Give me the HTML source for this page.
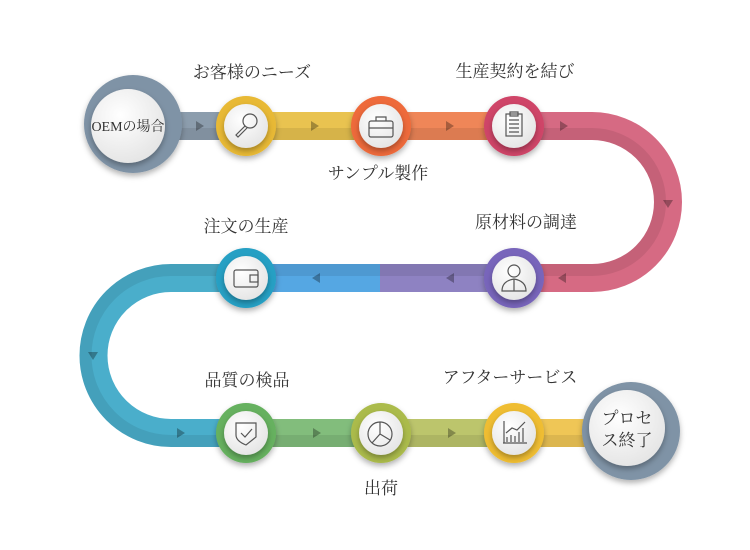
<!DOCTYPE html>
<html><head><meta charset="utf-8"><style>
html,body{margin:0;padding:0;background:#fff;width:750px;height:550px;overflow:hidden}
text{font-family:"Liberation Serif","Noto Serif CJK SC",serif;fill:#333}
</style></head><body>
<svg width="750" height="550" viewBox="0 0 750 550" xmlns="http://www.w3.org/2000/svg">
<defs>
<filter id="sh" x="-50%" y="-50%" width="200%" height="200%"><feDropShadow dx="0" dy="3" stdDeviation="3" flood-color="#000" flood-opacity="0.3"/></filter>
<radialGradient id="wg" cx="0.4" cy="0.35" r="0.7"><stop offset="0" stop-color="#fff"/><stop offset="1" stop-color="#e4e4e4"/></radialGradient>
</defs>
<g fill="none" stroke-width="28">
<line x1="150" y1="126" x2="246" y2="126" stroke="#8c9dad"/>
<line x1="246" y1="126" x2="381" y2="126" stroke="#e9c350"/>
<line x1="381" y1="126" x2="514" y2="126" stroke="#ef8658"/>
<path d="M514 126 H592 A76 76 0 0 1 592 278 H514" stroke="#d66a83"/>
<line x1="514" y1="278" x2="380" y2="278" stroke="#8e82c2"/>
<line x1="380" y1="278" x2="246" y2="278" stroke="#55a7e3"/>
<path d="M246 278 H171 A77.5 77.5 0 0 0 171 433 H246" stroke="#4aaecb"/>
<line x1="246" y1="433" x2="381" y2="433" stroke="#82bd7c"/>
<line x1="381" y1="433" x2="514" y2="433" stroke="#bcc56c"/>
<line x1="514" y1="433" x2="610" y2="433" stroke="#efc656"/>
</g>
<g fill="none" stroke-width="12" stroke="#000" stroke-opacity="0.08">
<line x1="150" y1="134" x2="592" y2="134"/>
<path d="M592 134 A68 68 0 0 1 592 270 H171 A85.5 85.5 0 0 0 171 441 H610"/>
</g>
<g fill="#000" fill-opacity="0.3">
<path d="M196 121 l8 5 -8 5z"/><path d="M311 121 l8 5 -8 5z"/><path d="M446 121 l8 5 -8 5z"/><path d="M560 121 l8 5 -8 5z"/>
<path d="M663 200 l10 0 -5 8z"/>
<path d="M566 273 l-8 5 8 5z"/><path d="M454 273 l-8 5 8 5z"/><path d="M320 273 l-8 5 8 5z"/>
<path d="M88 352 l10 0 -5 8z"/>
<path d="M177 428 l8 5 -8 5z"/><path d="M313 428 l8 5 -8 5z"/><path d="M448 428 l8 5 -8 5z"/><path d="M583 428 l8 5 -8 5z"/>
</g>
<!-- start/end -->
<circle cx="133" cy="124" r="49" fill="#7f93a6" filter="url(#sh)"/>
<circle cx="128" cy="126" r="37" fill="url(#wg)" filter="url(#sh)"/>
<text x="128" y="131" font-size="14" text-anchor="middle">OEMの場合</text>
<circle cx="631" cy="431" r="49" fill="#7f93a6" filter="url(#sh)"/>
<circle cx="627" cy="428" r="38" fill="url(#wg)" filter="url(#sh)"/>
<text x="627" y="424" font-size="17" text-anchor="middle">プロセ</text>
<text x="627" y="446" font-size="17" text-anchor="middle">ス終了</text>
<!-- nodes -->
<g filter="url(#sh)">
<circle cx="246" cy="126" r="30" fill="#e8b934"/>
<circle cx="381" cy="126" r="30" fill="#ee6b3a"/>
<circle cx="514" cy="126" r="30" fill="#cf4468"/>
<circle cx="514" cy="278" r="30" fill="#7865bb"/>
<circle cx="246" cy="278" r="30" fill="#27a0c4"/>
<circle cx="246" cy="433" r="30" fill="#66b15f"/>
<circle cx="381" cy="433" r="30" fill="#abbb4c"/>
<circle cx="514" cy="433" r="30" fill="#efbd32"/>
</g>
<g filter="url(#sh)" fill="url(#wg)">
<circle cx="246" cy="126" r="22"/><circle cx="381" cy="126" r="22"/><circle cx="514" cy="126" r="22"/>
<circle cx="514" cy="278" r="22"/><circle cx="246" cy="278" r="22"/>
<circle cx="246" cy="433" r="22"/><circle cx="381" cy="433" r="22"/><circle cx="514" cy="433" r="22"/>
</g>
<g fill="none" stroke="#555" stroke-width="1.2">
<circle cx="250" cy="121" r="7"/><path d="M245 126 l-9 9 2 2 9-9"/>
<rect x="369" y="121" width="24" height="16" rx="2"/><path d="M376 121 v-4 h10 v4 M369 128 h24"/>
<rect x="506" y="114" width="16" height="22"/><path d="M510 112 h8 v4 h-8z M509 120h10 M509 124h10 M509 128h10 M509 132h10"/>
<circle cx="514" cy="271" r="6"/><path d="M502 291 q0-10 12-12 q12 2 12 12z M514 279 v12"/>
<rect x="234" y="270" width="24" height="17" rx="2"/><rect x="250" y="275" width="8" height="7"/>
<path d="M236 423 h20 v14 q-10 8-10 8 q-10-4-10-10z M241 433 l4 4 7-8"/>
<circle cx="380" cy="434" r="12"/><path d="M380 434 V422 M380 434 l10 6 M380 434 l-8 9"/>
<path d="M503 443 h24 M504 443 v-22 M507 442 v-5 M511 442 v-7 M515 442 v-6 M519 442 v-10 M523 442 v-14 M506 433 l6-5 5 2 8-8"/>
</g>
<g font-size="17" text-anchor="middle">
<text x="252" y="78">お客様のニーズ</text>
<text x="515" y="77">生産契約を結び</text>
<text x="378" y="179">サンプル製作</text>
<text x="526" y="228">原材料の調達</text>
<text x="246" y="232">注文の生産</text>
<text x="247" y="386">品質の検品</text>
<text x="510" y="383">アフターサービス</text>
<text x="381" y="494">出荷</text>
</g>
</svg>
</body></html>
